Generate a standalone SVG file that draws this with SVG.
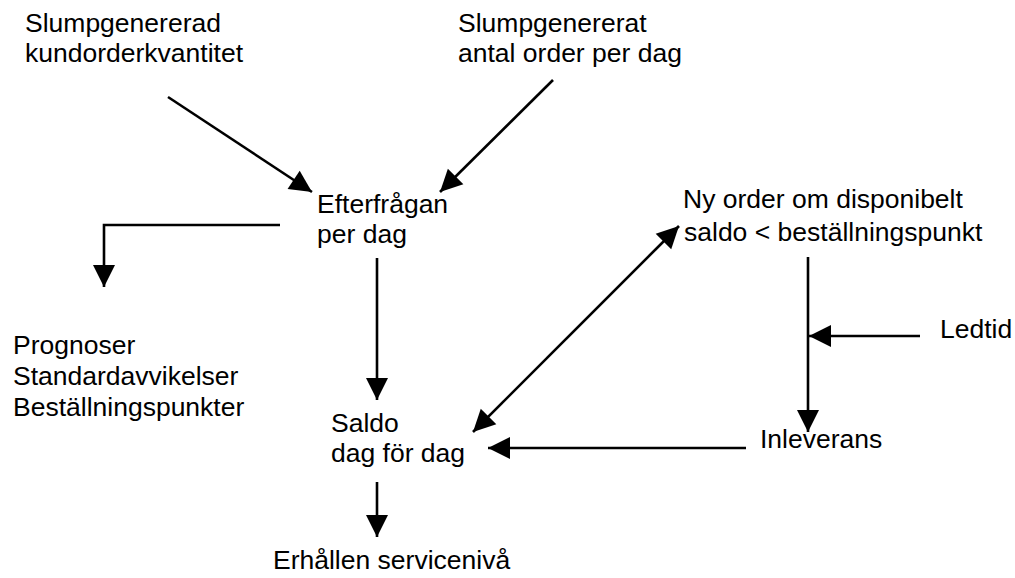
<svg xmlns="http://www.w3.org/2000/svg" width="1015" height="578" viewBox="0 0 1015 578">
<style>
text{font-family:"Liberation Sans",Arial,sans-serif;font-size:26.5px;fill:#000}
.c{stroke:#000;stroke-width:2.6;fill:none}
</style>
<defs>
<marker id="ah" markerUnits="userSpaceOnUse" markerWidth="23" markerHeight="23" refX="22" refY="11" orient="auto-start-reverse" overflow="visible">
<path d="M0,0 L22,11 L0,22 Z" fill="#000"/>
</marker>
</defs>
<rect width="1015" height="578" fill="#fff"/>
<g id="connectors">
<line class="c" x1="168" y1="97" x2="312" y2="192" marker-end="url(#ah)"/>
<line class="c" x1="553" y1="80" x2="440" y2="192" marker-end="url(#ah)"/>
<path class="c" d="M280,225 H104 V287" marker-end="url(#ah)"/>
<line class="c" x1="377" y1="258" x2="377" y2="400" marker-end="url(#ah)"/>
<line class="c" x1="473" y1="432" x2="679" y2="226" marker-start="url(#ah)" marker-end="url(#ah)"/>
<line class="c" x1="808" y1="257" x2="808" y2="432" marker-end="url(#ah)"/>
<line class="c" x1="920" y1="336" x2="809" y2="336" marker-end="url(#ah)"/>
<line class="c" x1="746" y1="448" x2="488" y2="448" marker-end="url(#ah)"/>
<line class="c" x1="377" y1="482" x2="377" y2="537" marker-end="url(#ah)"/>
</g>
<g id="n-kvantitet"><text x="25" y="32">Slumpgenererad</text><text x="25" y="62">kundorderkvantitet</text></g>
<g id="n-antal"><text x="458" y="32">Slumpgenererat</text><text x="458" y="62">antal order per dag</text></g>
<g id="n-efterfragan"><text x="317" y="213">Efterfrågan</text><text x="317" y="243">per dag</text></g>
<g id="n-nyorder"><text x="683" y="208">Ny order om disponibelt</text><text x="684" y="241">saldo &lt; beställningspunkt</text></g>
<g id="n-prognoser"><text x="13" y="354">Prognoser</text><text x="13" y="385">Standardavvikelser</text><text x="13" y="416">Beställningspunkter</text></g>
<g id="n-ledtid"><text x="940" y="338">Ledtid</text></g>
<g id="n-saldo"><text x="331" y="432">Saldo</text><text x="331" y="462">dag för dag</text></g>
<g id="n-inleverans"><text x="760" y="448">Inleverans</text></g>
<g id="n-service"><text x="273" y="569">Erhållen servicenivå</text></g>
</svg>
